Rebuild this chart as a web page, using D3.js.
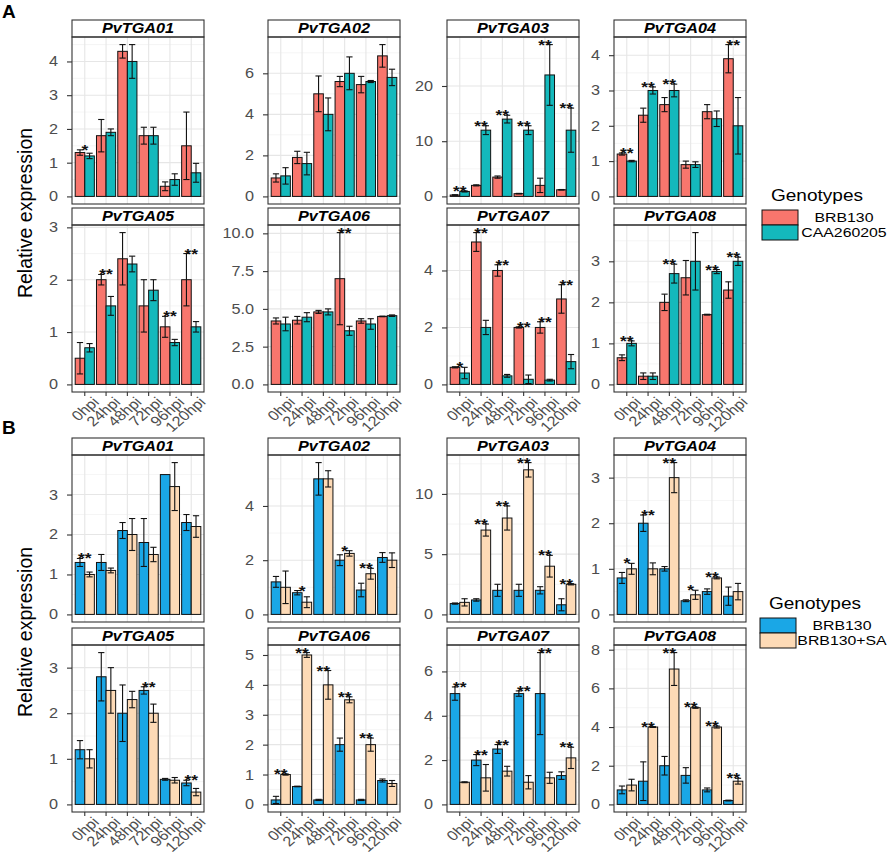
<!DOCTYPE html>
<html>
<head>
<meta charset="utf-8">
<script src="https://cdn.jsdelivr.net/npm/d3@7"></script>
<style>
  body { margin: 0; background: #fff; }
  text { font-family: "Liberation Sans", Arial, sans-serif; }
</style>
</head>
<body>
<script>
// Time points and genes
const hours = ['0hpi', '24hpi', '48hpi', '72hpi', '96hpi', '120hpi']
const genes = ['PvTGA01', 'PvTGA02', 'PvTGA03', 'PvTGA04', 'PvTGA05', 'PvTGA06', 'PvTGA07', 'PvTGA08']

// Section A: BRB130 vs CAA260205 (mean, se), one row per gene
const aGenotypes = ['BRB130', 'CAA260205']
const aBrbMean = [
  [1.3, 1.8, 4.3, 1.8, 0.3, 1.5],
  [0.9, 1.9, 5.0, 5.6, 5.45, 6.85],
  [0.25, 2.0, 3.5, 0.5, 2.0, 1.2],
  [1.2, 2.3, 2.6, 0.9, 2.4, 3.9],
  [0.5, 2.0, 2.4, 1.5, 1.1, 2.0],
  [4.2, 4.25, 4.8, 7.0, 4.2, 4.5],
  [0.6, 5.0, 4.0, 2.0, 2.0, 3.0],
  [0.65, 0.2, 2.0, 2.6, 1.7, 2.3]
]
const aBrbSe = [
  [0.08, 0.48, 0.2, 0.25, 0.13, 1.0],
  [0.2, 0.3, 0.87, 0.25, 0.4, 0.55],
  [0.05, 0.1, 0.2, 0.05, 1.3, 0.05],
  [0.03, 0.2, 0.2, 0.1, 0.2, 0.4],
  [0.3, 0.1, 0.5, 0.5, 0.2, 0.5],
  [0.2, 0.25, 0.1, 3.05, 0.15, 0.02],
  [0.02, 0.33, 0.2, 0.02, 0.2, 0.5],
  [0.07, 0.08, 0.2, 0.42, 0.01, 0.2]
]
const aCaaMean = [
  [1.2, 1.9, 4.0, 1.8, 0.5, 0.7],
  [1.0, 1.6, 4.0, 6.0, 5.6, 5.8],
  [0.9, 12, 14, 12, 22, 12],
  [1.0, 3.0, 3.0, 0.9, 2.2, 2.0],
  [0.7, 1.5, 2.3, 1.8, 0.8, 1.1],
  [4.0, 4.45, 4.8, 3.55, 4.0, 4.55],
  [0.4, 2.0, 0.3, 0.18, 0.15, 0.8],
  [1.0, 0.2, 2.7, 3.0, 2.75, 3.0]
]
const aCaaSe = [
  [0.08, 0.1, 0.5, 0.25, 0.17, 0.28],
  [0.4, 0.55, 0.8, 0.8, 0.05, 0.4],
  [0.1, 0.8, 0.7, 0.8, 5.5, 4.0],
  [0.02, 0.1, 0.18, 0.08, 0.22, 0.8],
  [0.08, 0.18, 0.15, 0.2, 0.06, 0.1],
  [0.45, 0.3, 0.2, 0.3, 0.35, 0.05],
  [0.2, 0.25, 0.05, 0.15, 0.03, 0.25],
  [0.06, 0.08, 0.23, 0.7, 0.05, 0.1]
]
const aStars = [
  ['*', '', '', '', '', ''],
  ['', '', '', '', '', ''],
  ['**', '**', '**', '**', '**', '**'],
  ['**', '**', '**', '', '', '**'],
  ['', '**', '', '', '**', '**'],
  ['', '', '', '**', '', ''],
  ['*', '**', '**', '**', '**', '**'],
  ['**', '', '**', '', '**', '**']
]
const aTickSteps = [1, 2, 10, 1, 1, 2.5, 2, 1]

// Section B: BRB130 vs BRB130+SA
const bGenotypes = ['BRB130', 'BRB130+SA']
const bBrbMean = [
  [1.3, 1.3, 2.1, 1.8, 3.5, 2.3],
  [1.2, 0.8, 5.0, 2.0, 0.9, 2.1],
  [0.9, 1.2, 2.0, 2.0, 2.0, 0.8],
  [0.8, 2.0, 1.0, 0.3, 0.5, 0.4],
  [1.2, 2.8, 2.0, 2.5, 0.55, 0.47],
  [0.15, 0.6, 0.15, 2.0, 0.15, 0.8],
  [5.0, 2.0, 2.5, 5.0, 5.0, 1.3],
  [0.75, 1.2, 2.0, 1.5, 0.75, 0.2]
]
const bBrbSe = [
  [0.1, 0.2, 0.2, 0.6, 0, 0.2],
  [0.2, 0.08, 0.6, 0.2, 0.25, 0.18],
  [0.05, 0.1, 0.5, 0.5, 0.3, 0.5],
  [0.12, 0.18, 0.05, 0.02, 0.06, 0.2],
  [0.2, 0.53, 0.62, 0.08, 0.02, 0.06],
  [0.12, 0.01, 0.02, 0.22, 0.02, 0.05],
  [0.3, 0.25, 0.2, 0.12, 1.85, 0.17],
  [0.2, 1.0, 0.48, 0.4, 0.1, 0.02]
]
const bSaMean = [
  [1.0, 1.1, 2.0, 1.5, 3.2, 2.2],
  [1.0, 0.45, 5.0, 2.25, 1.5, 2.0],
  [1.0, 7.0, 8.0, 12.0, 4.0, 2.5],
  [1.0, 1.0, 3.0, 0.43, 0.8, 0.5],
  [1.0, 2.5, 2.3, 2.0, 0.53, 0.27],
  [1.0, 5.0, 4.0, 3.5, 2.0, 0.7],
  [1.0, 1.2, 1.5, 1.0, 1.2, 2.1],
  [1.0, 4.0, 7.0, 5.0, 4.0, 1.2]
]
const bSaSe = [
  [0.06, 0.06, 0.4, 0.18, 0.6, 0.27],
  [0.6, 0.2, 0.3, 0.1, 0.2, 0.27],
  [0.3, 0.5, 1.0, 0.6, 0.9, 0.05],
  [0.12, 0.13, 0.33, 0.1, 0.02, 0.18],
  [0.2, 0.5, 0.18, 0.2, 0.06, 0.08],
  [0.02, 0.08, 0.48, 0.1, 0.22, 0.1],
  [0.02, 0.6, 0.22, 0.3, 0.25, 0.48],
  [0.3, 0.02, 0.85, 0.03, 0.05, 0.15]
]
const bStars = [
  ['**', '', '', '', '', ''],
  ['', '*', '', '*', '**', ''],
  ['', '**', '**', '**', '**', '**'],
  ['*', '**', '**', '*', '**', ''],
  ['', '', '', '**', '', '**'],
  ['**', '**', '**', '**', '**', ''],
  ['**', '**', '**', '**', '**', '**'],
  ['', '**', '**', '**', '**', '**']
]
const bTickSteps = [1, 2, 5, 1, 1, 1, 2, 2]

// Layout
const colLeft = [72, 268, 447, 614]
const rowTop = [20, 208, 438, 628]
const panelW = 132
const stripH = 17
const plotH = 167
const stretch = 1.16 // the figure's text is drawn a bit wide

const svg = d3.select('body').append('svg')
  .attr('width', 892)
  .attr('height', 857)

drawSection(0, aBrbMean, aBrbSe, aCaaMean, aCaaSe, aStars, aTickSteps, ['#F8766D', '#14B9BC'])
drawSection(1, bBrbMean, bBrbSe, bSaMean, bSaSe, bStars, bTickSteps, ['#1AA7E6', '#FDDAB6'])

drawLegend(762, 201, aGenotypes, ['#F8766D', '#14B9BC'])
drawLegend(760, 609, bGenotypes, ['#1AA7E6', '#FDDAB6'])

// Section letters and y titles
svg.append('text').attr('x', 2).attr('y', 18).text('A')
  .attr('font-size', 19).attr('font-weight', 'bold')
svg.append('text').attr('x', 2).attr('y', 434).text('B')
  .attr('font-size', 19).attr('font-weight', 'bold')
ylabel(32, 213)
ylabel(32, 632)

function ylabel (x, y) {
  svg.append('text')
    .attr('transform', `translate(${x},${y}) rotate(-90)`)
    .attr('text-anchor', 'middle')
    .attr('font-size', 19.5)
    .text('Relative expression')
}

function drawSection (s, m0, se0, m1, se1, stars, steps, colors) {
  genes.forEach((gene, i) => {
    drawPanel({
      gene,
      left: colLeft[i % 4],
      top: rowTop[s * 2 + Math.floor(i / 4)],
      means: [m0[i], m1[i]],
      ses: [se0[i], se1[i]],
      stars: stars[i],
      step: steps[i],
      colors,
      bottomRow: i >= 4
    })
  })
}

function drawPanel (p) {
  const plotTop = p.top + stripH
  const plotBottom = plotTop + plotH
  const right = p.left + panelW
  const tops = hours.map((h, k) => Math.max(p.means[0][k] + p.ses[0][k], p.means[1][k] + p.ses[1][k]))
  const hi = d3.max(tops)
  const pad = hi * 0.05
  const y = d3.scaleLinear().domain([-pad, hi + pad]).range([plotBottom, plotTop])
  const x = d3.scaleBand().domain(hours).range([p.left, right])
    .paddingInner(0.1).paddingOuter(0.15)
  const xIn = d3.scaleBand().domain([0, 1]).range([0, x.bandwidth()])
  const ticks = d3.range(0, hi + pad + 1e-9, p.step)
  const minor = d3.range(p.step / 2, hi + pad, p.step)
  const fmt = p.step % 1 ? d3.format('.1f') : d3.format('d')

  const g = svg.append('g')

  g.append('rect')
    .attr('x', p.left).attr('y', plotTop)
    .attr('width', panelW).attr('height', plotH)
    .attr('fill', '#fff')

  // grid
  g.selectAll('.minor').data(minor).join('line')
    .attr('x1', p.left).attr('x2', right)
    .attr('y1', d => y(d)).attr('y2', d => y(d))
    .attr('stroke', '#f0f0f0').attr('stroke-width', 0.7)
  g.selectAll('.major').data(ticks).join('line')
    .attr('x1', p.left).attr('x2', right)
    .attr('y1', d => y(d)).attr('y2', d => y(d))
    .attr('stroke', '#e6e6e6').attr('stroke-width', 1.1)
  g.selectAll('.vgrid').data(hours).join('line')
    .attr('x1', d => x(d) + x.bandwidth() / 2).attr('x2', d => x(d) + x.bandwidth() / 2)
    .attr('y1', plotTop).attr('y2', plotBottom)
    .attr('stroke', '#e6e6e6').attr('stroke-width', 1.1)

  // bars
  const rows = hours.flatMap((h, k) => [0, 1].map(j => ({ h, j, m: p.means[j][k], se: p.ses[j][k] })))
  g.selectAll('.bar').data(rows).join('rect')
    .attr('x', d => x(d.h) + xIn(d.j))
    .attr('width', xIn.bandwidth())
    .attr('y', d => y(d.m))
    .attr('height', d => y(0) - y(d.m))
    .attr('fill', d => p.colors[d.j])
    .attr('stroke', '#111').attr('stroke-width', 1)

  // error bars
  const capW = xIn.bandwidth() * 0.65
  const cx = d => x(d.h) + xIn(d.j) + xIn.bandwidth() / 2
  const err = g.selectAll('.err').data(rows.filter(d => d.se > 0)).join('g')
    .attr('stroke', '#111').attr('stroke-width', 1.1)
  err.append('line')
    .attr('x1', cx).attr('x2', cx)
    .attr('y1', d => y(d.m - d.se)).attr('y2', d => y(d.m + d.se))
  err.append('line')
    .attr('x1', d => cx(d) - capW / 2).attr('x2', d => cx(d) + capW / 2)
    .attr('y1', d => y(d.m + d.se)).attr('y2', d => y(d.m + d.se))
  err.append('line')
    .attr('x1', d => cx(d) - capW / 2).attr('x2', d => cx(d) + capW / 2)
    .attr('y1', d => y(d.m - d.se)).attr('y2', d => y(d.m - d.se))

  // significance marks
  g.selectAll('.star').data(hours.map((h, k) => ({ h, s: p.stars[k], top: tops[k] })).filter(d => d.s)).join('text')
    .attr('transform', d => `translate(${x(d.h) + x.bandwidth() / 2},${y(d.top) + 5}) scale(${stretch},1)`)
    .attr('text-anchor', 'middle')
    .attr('font-size', 15).attr('font-weight', 'bold')
    .attr('fill', '#111')
    .text(d => d.s)

  // strip
  g.append('rect')
    .attr('x', p.left).attr('y', p.top)
    .attr('width', panelW).attr('height', stripH)
    .attr('fill', '#fff').attr('stroke', '#333').attr('stroke-width', 1.1)
  g.append('text')
    .attr('transform', `translate(${p.left + panelW / 2},${p.top + 13}) scale(${stretch},1)`)
    .attr('text-anchor', 'middle')
    .attr('font-size', 14).attr('font-weight', 'bold').attr('font-style', 'italic')
    .text(p.gene)

  g.append('rect')
    .attr('x', p.left).attr('y', plotTop)
    .attr('width', panelW).attr('height', plotH)
    .attr('fill', 'none').attr('stroke', '#333').attr('stroke-width', 1.1)

  // y axis
  const ya = g.append('g')
    .attr('transform', `translate(${p.left},0)`)
    .call(d3.axisLeft(y).tickValues(ticks).tickSize(5).tickPadding(7).tickFormat(fmt))
  ya.select('.domain').remove()
  ya.selectAll('line').attr('stroke', '#333').attr('stroke-width', 1.1)
  ya.selectAll('text')
    .attr('font-size', 14).attr('fill', '#4d4d4d')
    .attr('transform', `scale(${stretch},1)`)
    .style('font-family', '"Liberation Sans", Arial, sans-serif')

  // x axis only under the bottom row
  if (p.bottomRow) {
    const xa = g.append('g')
      .attr('transform', `translate(0,${plotBottom})`)
      .call(d3.axisBottom(x).tickSize(4))
    xa.select('.domain').remove()
    xa.selectAll('line').attr('stroke', '#333').attr('stroke-width', 1.1)
    xa.selectAll('text')
      .attr('x', 0).attr('y', 0).attr('dy', '0.72em')
      .attr('transform', `translate(7,4) scale(${stretch},1) rotate(-45)`)
      .attr('text-anchor', 'end')
      .attr('font-size', 14).attr('fill', '#4d4d4d')
      .style('font-family', '"Liberation Sans", Arial, sans-serif')
  }
}

function drawLegend (left, baseline, names, colors) {
  const g = svg.append('g')
  g.append('text')
    .attr('transform', `translate(${left + 9},${baseline}) scale(1.12,1)`)
    .attr('font-size', 17)
    .text('Genotypes')
  const key = d3.scaleBand().domain(names).range([baseline + 9, baseline + 39])
  g.selectAll('.key').data(names).join('rect')
    .attr('x', left).attr('y', d => key(d))
    .attr('width', 36).attr('height', key.bandwidth())
    .attr('fill', (d, i) => colors[i])
    .attr('stroke', '#111').attr('stroke-width', 1)
  g.selectAll('.lab').data(names).join('text')
    .attr('transform', d => `translate(${left + 82},${key(d) + key.bandwidth() / 2}) scale(1.2,1)`)
    .attr('dy', '0.36em')
    .attr('text-anchor', 'middle')
    .attr('font-size', 13.2)
    .text(d => d)
}
</script>
</body>
</html>
